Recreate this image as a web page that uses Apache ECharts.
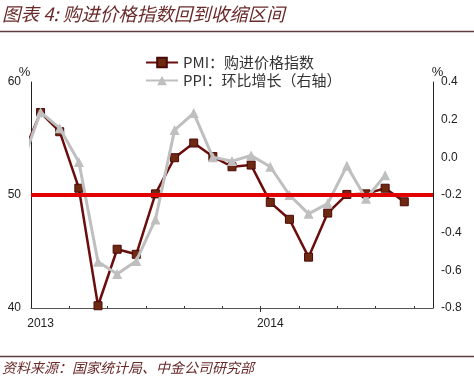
<!DOCTYPE html>
<html>
<head>
<meta charset="utf-8">
<script src="https://cdn.jsdelivr.net/npm/echarts@6/dist/echarts.min.js"></script>
<style>
html,body{margin:0;padding:0;background:#fff;}
#c{width:474px;height:380px;}
</style>
</head>
<body>
<div id="c"></div>
<script>
// ---- data ----
const months = ['2012-12','2013-01','2013-02','2013-03','2013-04','2013-05','2013-06','2013-07','2013-08','2013-09','2013-10','2013-11','2013-12','2014-01','2014-02','2014-03','2014-04','2014-05','2014-06','2014-07','2014-08'];
const pmiValues = [53.3, 57.3, 55.6, 50.6, 40.2, 45.2, 44.75, 50.1, 53.3, 54.6, 53.4, 52.5, 52.65, 49.35, 47.85, 44.5, 48.4, 50.05, 50.1, 50.6, 49.4];
const ppiValues = [-0.04, 0.24, 0.155, -0.025, -0.555, -0.62, -0.55, -0.33, 0.145, 0.235, 0.0, -0.02, 0.01, -0.05, -0.2, -0.3, -0.245, -0.045, -0.22, -0.095, null];
const yearLabels = ['2013', '2014'];
const leftTicks = [40, 50, 60];
const rightTicks = [-0.8, -0.6, -0.4, -0.2, 0.0, 0.2, 0.4];
const thresholdPMI = 50;
const seriesNames = ['PMI：购进价格指数', 'PPI：环比增长（右轴）'];
const axisStartYear = 2013;
const axisMonthCount = 21; // Jan 2013 – Sep 2014

// month -> position on the month axis (month centre)
function monthPos(m) {
  const [y, mo] = m.split('-').map(Number);
  return (y - axisStartYear) * 12 + (mo - 1) + 0.5;
}
const pmiData = months.map((m, i) => [monthPos(m), pmiValues[i]]);
const ppiData = months.map((m, i) => ppiValues[i] == null ? null : [monthPos(m), ppiValues[i]]).filter(d => d);
const labelPos = yearLabels.map(y => monthPos(y + '-01'));
const minorTicks = [];
for (let k = 2; k < axisMonthCount; k += 2) minorTicks.push(k);
const majorTicks = yearLabels.slice(1).map(y => (Number(y) - axisStartYear) * 12);

const chart = echarts.init(document.getElementById('c'), null, {renderer: 'canvas'});
const numFont = '"Liberation Sans", Arial, sans-serif';
const cjk = '"Noto Sans CJK SC", sans-serif';

chart.setOption({
  animation: false,
  backgroundColor: '#fff',
  grid: {left: 31, right: 41, top: 82, bottom: 72, containLabel: false},
  legend: {
    orient: 'vertical',
    left: 140, top: 50,
    itemWidth: 32, itemHeight: 12, itemGap: 3,
    textStyle: {fontFamily: cjk, fontSize: 15, color: '#333', lineHeight: 13},
    data: seriesNames
  },
  xAxis: [{
    type: 'value', min: 0, max: axisMonthCount, position: 'bottom',
    axisLine: {show: true, onZero: false, lineStyle: {color: '#555', width: 1}},
    axisTick: {show: true, inside: true, length: 2, customValues: minorTicks.concat(majorTicks), lineStyle: {color: '#333'}},
    axisLabel: {show: true, customValues: labelPos, margin: 10, color: '#222', fontFamily: numFont, fontSize: 12,
      formatter: v => String(axisStartYear + Math.floor(v / 12))},
    splitLine: {show: false}
  }, {
    type: 'value', min: 0, max: axisMonthCount, position: 'bottom', offset: 0,
    axisLine: {show: false, onZero: false},
    axisTick: {show: true, inside: false, length: 4, customValues: majorTicks, lineStyle: {color: '#333'}},
    axisLabel: {show: false},
    splitLine: {show: false}
  }],
  yAxis: [{
    type: 'value', min: leftTicks[0], max: leftTicks[leftTicks.length - 1], interval: 10,
    axisLine: {show: true, onZero: false, lineStyle: {color: '#222'}},
    axisTick: {show: false},
    axisLabel: {color: '#222', fontFamily: numFont, fontSize: 12, margin: 10},
    splitLine: {show: false}
  }, {
    type: 'value', min: rightTicks[0], max: rightTicks[rightTicks.length - 1], interval: 0.2,
    position: 'right',
    axisLine: {show: true, onZero: false, lineStyle: {color: '#222'}},
    axisTick: {show: false},
    axisLabel: {color: '#222', fontFamily: numFont, fontSize: 12, margin: 8, formatter: v => v.toFixed(1)},
    splitLine: {show: false}
  }],
  series: [{
    name: 'threshold', type: 'line', data: [], z: 1, yAxisIndex: 0,
    markLine: {
      silent: true, symbol: 'none', label: {show: false},
      lineStyle: {color: '#e30000', width: 4, type: 'solid'},
      data: [{yAxis: thresholdPMI}]
    }
  }, {
    name: seriesNames[0], type: 'line', data: pmiData, xAxisIndex: 0, yAxisIndex: 0, z: 3,
    symbol: 'rect', symbolSize: 8, showAllSymbol: true,
    lineStyle: {color: '#6b0d0d', width: 2.5},
    itemStyle: {color: '#6e2a10', borderColor: '#4a0808', borderWidth: 1}
  }, {
    name: seriesNames[1], type: 'line', data: ppiData, xAxisIndex: 0, yAxisIndex: 1, z: 4,
    symbol: 'triangle', symbolSize: 10, showAllSymbol: true,
    lineStyle: {color: '#bfbfbf', width: 3},
    itemStyle: {color: '#bfbfbf'}
  }],
  graphic: [
    {type: 'text', left: 2, top: 5, style: {text: '图表 4: 购进价格指数回到收缩区间', font: 'italic 18.5px ' + cjk, fill: '#6a2a2a'}},
    {type: 'line', shape: {x1: 0, y1: 31.5, x2: 474, y2: 31.5}, style: {stroke: '#5e3d3d', lineWidth: 1.5}},
    {type: 'line', shape: {x1: 0, y1: 356.5, x2: 474, y2: 356.5}, style: {stroke: '#5e3d3d', lineWidth: 1.5}},
    {type: 'text', left: 2, top: 361, style: {text: '资料来源：国家统计局、中金公司研究部', font: 'italic 14px ' + cjk, fill: '#6a2a2a'}},
    {type: 'text', x: 24.5, y: 72, style: {text: '%', font: '13px ' + numFont, fill: '#222', align: 'center', verticalAlign: 'middle'}},
    {type: 'text', x: 437.5, y: 72, style: {text: '%', font: '13px ' + numFont, fill: '#222', align: 'center', verticalAlign: 'middle'}}
  ]
});
</script>
</body>
</html>
